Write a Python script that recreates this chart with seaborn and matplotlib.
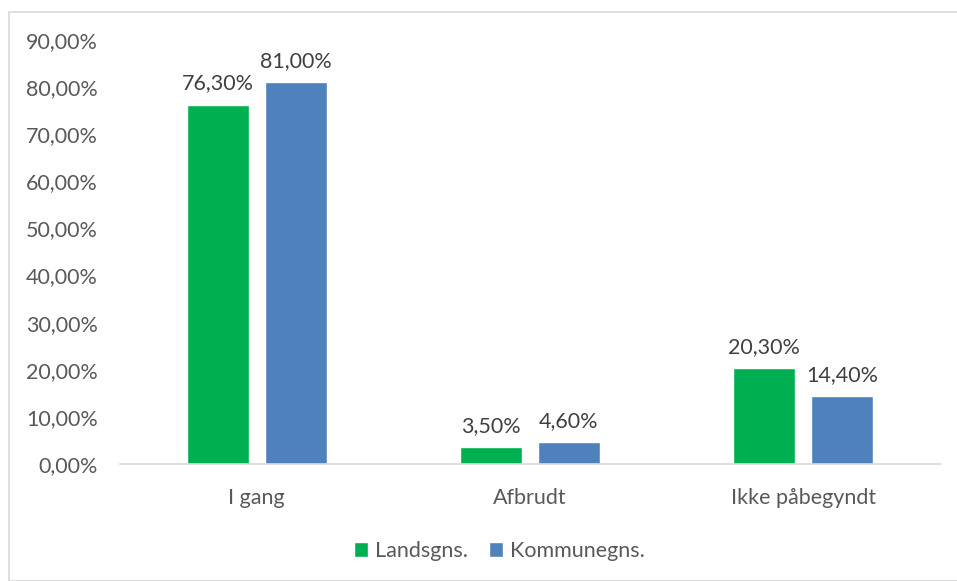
import matplotlib
matplotlib.use("Agg")
import matplotlib.pyplot as plt
import seaborn as sns
import pandas as pd
from matplotlib.patches import Rectangle
from matplotlib.ticker import FuncFormatter

# Data
categories = ["I gang", "Afbrudt", "Ikke påbegyndt"]
series_names = ["Landsgns.", "Kommunegns."]
landsgns = [76.3, 3.5, 20.3]
kommunegns = [81.0, 4.6, 14.4]
colors = ["#00B050", "#4F81BD"]

df = pd.DataFrame({
    "kategori": categories * 2,
    "serie": [series_names[0]] * 3 + [series_names[1]] * 3,
    "andel": landsgns + kommunegns,
})

sns.set_style("white")
plt.rcParams['font.family'] = ['Lato', 'DejaVu Sans']
text_col = "#595959"
fs = 15.5

fig = plt.figure(figsize=(9.57, 5.81), dpi=100)
ax = fig.add_axes([0.1254, 0.2014, 0.8566, 0.7297])

sns.barplot(data=df, x="kategori", y="andel", hue="serie", palette=colors,
            width=0.571, gap=0.205, ax=ax, saturation=1, legend=True)

ax.set_ylim(0, 90)
ax.set_yticks(range(0, 91, 10))
ax.yaxis.set_major_formatter(FuncFormatter(lambda v, p: f"{v:.2f}%".replace(".", ",")))
ax.tick_params(axis="both", length=0, labelsize=fs, colors=text_col)
ax.tick_params(axis="y", pad=16)
ax.tick_params(axis="x", pad=17)
ax.set_xlabel("")
ax.set_ylabel("")
for s in ["top", "right", "left"]:
    ax.spines[s].set_visible(False)
ax.spines["bottom"].set_color("#D9D9D9")
ax.spines["bottom"].set_linewidth(1.2)

for cont in ax.containers:
    ax.bar_label(cont, labels=[f"{v:.2f}%".replace(".", ",") for v in cont.datavalues],
                 padding=8, fontsize=fs, color="#404040")

handles, labels = ax.get_legend_handles_labels()
ax.legend(handles, labels, loc="center", bbox_to_anchor=(0.463, -0.205), ncol=2,
          frameon=False, fontsize=fs, handlelength=0.65, handleheight=0.65,
          handletextpad=0.3, columnspacing=1.0, labelcolor=text_col)

fig.patches.append(Rectangle((9 / 957, 0), 1, 1 - 12 / 581, transform=fig.transFigure,
                             fill=False, edgecolor="#D9D9D9", linewidth=1.2))

fig.savefig("out.png", dpi=100)
